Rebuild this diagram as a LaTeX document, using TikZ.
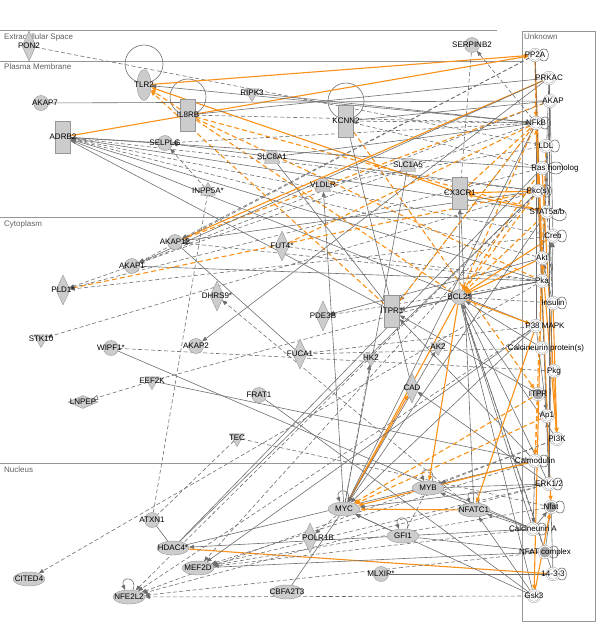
\documentclass[tikz,border=0pt]{standalone}
\usepackage{fontspec}
\setmainfont{Liberation Sans}
\usepackage{tikz}
\usetikzlibrary{shapes,arrows.meta,positioning,calc}
\definecolor{genefill}{RGB}{204,204,204}
\definecolor{geneline}{RGB}{150,150,150}
\definecolor{darkfill}{RGB}{170,170,170}
\definecolor{relgrey}{RGB}{110,110,110}
\definecolor{hitorange}{RGB}{250,145,25}
\definecolor{compgrey}{RGB}{150,150,150}
\definecolor{comptext}{RGB}{95,95,95}
\pgfdeclarelayer{bg}
\pgfsetlayers{bg,main}

\begin{document}
\begin{tikzpicture}[x=1pt, y=-1pt, >={Triangle[length=5pt,width=4pt]}, font=\fontsize{8}{9}\selectfont]
    \tikzstyle{gene} = [circle, draw=geneline, fill=genefill, minimum size=15pt, inner sep=0pt]
    \tikzstyle{oval} = [ellipse, draw=geneline, fill=genefill, minimum width=32pt, minimum height=14pt, inner sep=0pt]
    \tikzstyle{tallgene} = [ellipse, draw=geneline, fill=genefill, minimum width=14pt, minimum height=31pt, inner sep=0pt]
    \tikzstyle{receptor} = [rectangle, draw=geneline, fill=genefill, minimum width=15pt, minimum height=32pt, inner sep=0pt]
    \tikzstyle{enzyme} = [diamond, draw=geneline, fill=genefill, minimum width=14pt, minimum height=30pt, inner sep=0pt]
    \tikzstyle{peptidase} = [diamond, draw=geneline, fill=genefill, minimum width=30pt, minimum height=13pt, inner sep=0pt]
    \tikzstyle{kinase} = [regular polygon, regular polygon sides=3, shape border rotate=180, draw=geneline, fill=genefill, minimum size=17pt, inner sep=0pt]
    \tikzstyle{phosphatase} = [regular polygon, regular polygon sides=3, draw=geneline, fill=genefill, minimum size=17pt, inner sep=0pt]
    \tikzstyle{transporter} = [trapezium, trapezium stretches=true, trapezium left angle=72, trapezium right angle=72, draw=geneline, fill=genefill, minimum width=15pt, minimum height=13pt, inner sep=1pt]
    \tikzstyle{unk} = [circle, draw=geneline, double=white, double distance=1.1pt, fill=white, minimum size=12pt, inner sep=0pt]
    \tikzstyle{unkdark} = [unk, fill=darkfill]
    \tikzstyle{comp} = [text=comptext, anchor=west, inner sep=0pt]
    \tikzstyle{compline} = [draw=compgrey, line width=0.7pt]
    \tikzstyle{rel} = [draw=relgrey, line width=0.6pt]
    \tikzstyle{relx} = [rel, dash pattern=on 4pt off 2.5pt]
    \tikzstyle{hit} = [draw=hitorange, line width=1.1pt]
    \tikzstyle{hitx} = [hit, dash pattern=on 5pt off 3pt]

    \useasboundingbox (0,0) rectangle (600,632);

    \node[comp] (extralbl) at (4,37) {Extracellular Space};
    \node[comp] (pmlbl) at (4,67) {Plasma Membrane};
    \node[comp] (cytolbl) at (4,224) {Cytoplasm};
    \node[comp] (nuclbl) at (4,470) {Nucleus};
    \node[comp] (unklbl) at (524,37) {Unknown};

    \node[enzyme, label=center:PON2] (pon2) at (29,46) {};
    \node[tallgene, label=center:TLR2] (tlr2) at (144,85) {};
    \node[receptor, label=center:IL8RB] (il8rb) at (188,115) {};
    \node[kinase, label=center:RIPK3] (ripk3) at (252,93) {};
    \node[gene, label={[xshift=4pt]center:AKAP7}] (akap7) at (41,103) {};
    \node[receptor, label=center:ADRB2] (adrb2) at (63,137) {};
    \node[gene, label=center:SELPLG] (selplg) at (165,143) {};
    \node[transporter, label=center:SLC8A1] (slc8a1) at (272,157) {};
    \node[phosphatase, label=center:INPP5A*] (inpp5a) at (208,191) {};
    \node[receptor, label=center:KCNN2] (kcnn2) at (346,121) {};
    \node[gene, label=center:SERPINB2] (serpinb2) at (472,45) {};
    \node[transporter, label=center:SLC1A5] (slc1a5) at (408,165) {};
    \node[transporter, label=center:VLDLR] (vldlr) at (323,185) {};
    \node[receptor, label=center:CX3CR1] (cx3cr1) at (460,193) {};

    \node[gene, label=center:AKAP13] (akap13) at (175,242) {};
    \node[gene, label=center:AKAP1] (akap1) at (132,266) {};
    \node[enzyme, label=center:PLD1*] (pld1) at (63,290) {};
    \node[enzyme, label=center:FUT4*] (fut4) at (282,246) {};
    \node[enzyme, label=center:DHRS9*] (dhrs9) at (217,296) {};
    \node[kinase, label=center:STK10] (stk10) at (41,339) {};
    \node[gene, label=center:WIPF1*] (wipf1) at (111,348) {};
    \node[gene, label=center:AKAP2] (akap2) at (196,346) {};
    \node[kinase, label=center:EEF2K] (eef2k) at (152,381) {};
    \node[peptidase, label=center:LNPEP] (lnpep) at (83,402) {};
    \node[gene, label=center:FRAT1] (frat1) at (259,395) {};
    \node[enzyme, label=center:PDE3B] (pde3b) at (323,316) {};
    \node[receptor, label=center:ITPR1] (itpr1) at (392,311) {};
    \node[gene, label=center:BCL2*] (bcl2) at (459,297) {};
    \node[enzyme, label=center:FUCA1] (fuca1) at (300,354) {};
    \node[kinase, label=center:HK2] (hk2) at (371,358) {};
    \node[kinase, label=center:AK2] (ak2) at (438,347) {};
    \node[enzyme, label=center:CAD] (cad) at (412,388) {};
    \node[kinase, label=center:TEC] (tec) at (237,438) {};

    \node[gene, label=center:ATXN1] (atxn1) at (152,520) {};
    \node[oval, label=center:HDAC4*] (hdac4) at (173,548) {};
    \node[oval, label=center:MEF2D] (mef2d) at (198,568) {};
    \node[oval, label=center:CITED4] (cited4) at (29,579) {};
    \node[oval, label=center:NFE2L2] (nfe2l2) at (129,597) {};
    \node[oval, label=center:CBFA2T3] (cbfa2t3) at (287,592) {};
    \node[enzyme, label={[xshift=8pt]center:POLR1B}] (polr1b) at (310,538) {};
    \node[oval, label=center:MYC] (myc) at (344,509) {};
    \node[oval, label=center:MYB] (myb) at (428,488) {};
    \node[oval, label=center:NFATC1] (nfatc1) at (474,510) {};
    \node[oval, label=center:GFI1] (gfi1) at (403,536) {};
    \node[gene, label=center:MLXIP*] (mlxip) at (381,574) {};

    \node[unk, label=center:PP2A] (pp2a) at (535,55) {};
    \node[unk, label=center:PRKAC] (prkac) at (549,78) {};
    \node[unk, label={[xshift=3pt]center:AKAP}] (akap) at (550,101) {};
    \node[unk, label=center:NFkB] (nfkb) at (536,123) {};
    \node[unk, label=center:LDL] (ldl) at (546,146) {};
    \node[unk, label={[xshift=13pt]center:Ras homolog}] (ras) at (542,168) {};
    \node[unk, label=center:Pkc(s)] (pkc) at (538,191) {};
    \node[unk, label=center:STAT5a/b] (stat5) at (547,212) {};
    \node[unk, label=center:Creb] (creb) at (553,236) {};
    \node[unk, label=center:Akt] (akt) at (542,258) {};
    \node[unk, label=center:Pka] (pka) at (542,281) {};
    \node[unk, label=center:Insulin] (insulin) at (553,303) {};
    \node[unk, label={[xshift=9pt]center:P38 MAPK}] (p38) at (536,326) {};
    \node[unk, label={[xshift=4pt]center:Calcineurin protein(s)}] (calcin) at (542,348) {};
    \node[unk, label=center:Pkg] (pkg) at (554,371) {};
    \node[unkdark, label=center:ITPR] (itpr) at (538,394) {};
    \node[unk, label=center:Ap1] (ap1) at (547,416) {};
    \node[unk, label=center:PI3K] (pi3k) at (557,439) {};
    \node[unk, label=center:Calmodulin] (calm) at (535,461) {};
    \node[unk, label=center:ERK1/2] (erk) at (549,484) {};
    \node[unkdark, label=center:Nfat] (nfat) at (551,507) {};
    \node[unk, label=center:Calcineurin A] (calca) at (533,529) {};
    \node[unkdark, label=center:NFAT complex] (nfatcx) at (545,552) {};
    \node[unk, label=center:14-3-3] (f1433) at (553,574) {};
    \node[unk, label=center:Gsk3] (gsk3) at (534,596) {};

    \begin{pgfonlayer}{bg}
    \draw[compline] (0,30) -- (497,30);
    \draw[compline] (0,61) -- (522,61);
    \draw[compline] (0,217) -- (522,217);
    \draw[compline] (0,463) -- (522,463);
    \draw[compline] (522,31) rectangle (595,621);

    \draw[rel] ([yshift=21pt]tlr2.center) circle (19pt);
    \draw[rel] ([yshift=18pt]il8rb.center) circle (18pt);
    \draw[rel] ([yshift=20pt]kcnn2.center) circle (18pt);
    \foreach \n in {myc,myb,nfatc1,gfi1,nfe2l2}
        \draw[rel,->] (\n.60) .. controls +(70:15pt) and +(110:15pt) .. (\n.120);
    \foreach \n in {pp2a,nfkb,ldl,pkc,creb,insulin,calm,erk,nfat,calca,nfatcx,f1433}
        \draw[rel] (\n.40) .. controls +(40:15pt) and +(-40:15pt) .. (\n.-40);
    \draw[rel] (ras.30) .. controls +(30:24pt) and +(-30:24pt) .. (ras.-30);
    \draw[rel] (stat5.10) .. controls +(20:22pt) and +(-40:22pt) .. (stat5.-50);

    \draw[relx,->] (pon2) -- (ldl);
    \draw[hit,->] (tlr2) -- (pp2a);
    \draw[hit,->] (adrb2) -- (pp2a);
    \draw[hit,->] (cx3cr1) -- (tlr2);
    \draw[rel,->] (nfkb) -- (tlr2);
    \draw[hitx,->] (bcl2) -- (tlr2);
    \draw[hitx,->] (itpr1) -- (tlr2);
    \draw[rel] (ripk3) -- (nfkb);
    \draw[rel] (akap7) -- (akap);
    \draw[rel] (il8rb) -- (prkac);
    \draw[relx,->] (il8rb) -- (nfkb);
    \draw[hitx,->] (il8rb) -- (stat5);
    \draw[hitx] (il8rb) -- (pka);
    \draw[relx] (kcnn2) -- (nfkb);
    \draw[relx] (kcnn2) -- (ras);
    \draw[rel] (kcnn2) -- (akap);
    \draw[rel] (kcnn2) -- (cad);
    \draw[hitx,->] (kcnn2) -- (itpr);
    \draw[rel] (adrb2) -- (selplg);
    \draw[rel,->] (pka) -- (adrb2);
    \draw[rel,->] (p38) -- (adrb2);
    \draw[relx,->] (pkc) -- (adrb2);
    \draw[relx,->] (akt) -- (adrb2);
    \draw[rel,->] (stat5) -- (adrb2);
    \draw[relx,->] (creb) -- (adrb2);
    \draw[rel] (adrb2) -- (ras);
    \draw[rel] (adrb2) -- (itpr1);
    \draw[rel,->] (pkc) -- (selplg);
    \draw[relx,->] (nfkb) -- (selplg);
    \draw[relx,->] (inpp5a) -- (selplg);
    \draw[relx,-{Bar[width=6pt]}] (atxn1) -- (inpp5a);
    \draw[rel] (slc8a1) -- (itpr1);
    \draw[rel] (slc8a1) -- (nfkb);
    \draw[rel,->] (myc) -- (vldlr);
    \draw[relx] (vldlr) -- (ldl);
    \draw[rel] (slc1a5) -- (myc);
    \draw[relx,->] (nfkb) -- (serpinb2);
    \draw[relx] (serpinb2) -- (cx3cr1);
    \draw[rel,->] (bcl2) -- (cx3cr1);
    \draw[hit,->] (pkc) -- (cx3cr1);
    \draw[hit,->] (stat5) -- (cx3cr1);
    \draw[hitx] (cx3cr1) -- (nfkb);
    \draw[rel] (cx3cr1) -- (nfatc1);

    \draw[hit,->] (prkac) -- (akap13);
    \draw[hitx,->] (akap) -- (akap13);
    \draw[rel,->] (pkc) -- (akap13);
    \draw[relx,->] (pp2a) -- (akap13);
    \draw[rel,->] (prkac) -- (akap1);
    \draw[relx,->] (akap) -- (akap1);
    \draw[relx,->] (pka) -- (akap13);
    \draw[rel] (akap1) -- (pka);
    \draw[relx,->] (pp2a) -- (akap1);
    \draw[hitx,->] (pkc) -- (pld1);
    \draw[relx,->] (ras) -- (pld1);
    \draw[relx,->] (nfkb) -- (pld1);
    \draw[relx,->] (creb) -- (pld1);
    \draw[relx,->] (pkc) -- (stk10);
    \draw[relx] (wipf1) -- (pkg);
    \draw[rel] (wipf1) -- (calca);
    \draw[rel,->] (prkac) -- (akap2);
    \draw[relx,->] (nfatc1) -- (dhrs9);
    \draw[hitx] (fut4) -- (nfkb);
    \draw[relx] (fut4) -- (pka);
    \draw[rel] (akap13) -- (fuca1);
    \draw[relx] (fuca1) -- (p38);
    \draw[relx] (fuca1) -- (calcin);
    \draw[relx] (bcl2) -- (eef2k);
    \draw[relx,-{Triangle[open,length=6pt,width=5pt]}] (eef2k) -- (lnpep);
    \draw[rel] (eef2k) -- (calm);
    \draw[rel] (frat1) -- (gsk3);
    \draw[relx] (tec) -- (nfat);
    \draw[relx] (tec) -- (atxn1);
    \draw[rel,->] (akt) -- (pde3b);
    \draw[relx,->] (pka) -- (pde3b);
    \draw[rel,->] (itpr) -- (itpr1);
    \draw[rel,->] (calm) -- (itpr1);
    \draw[rel,->] (pka) -- (itpr1);
    \draw[relx,->] (nfkb) -- (itpr1);
    \draw[rel] (bcl2) -- (itpr1);
    \draw[hitx] (itpr1) -- (nfkb);
    \draw[rel,->] (erk) -- (cad);

    \draw[hit,->] (akt) -- (bcl2);
    \draw[hitx,->] (nfkb) -- (bcl2);
    \draw[hitx,->] (stat5) -- (bcl2);
    \draw[hitx,->] (ras) -- (bcl2);
    \draw[hitx,->] (pkc) -- (bcl2);
    \draw[hit,->] (bcl2) -- (p38);
    \draw[hit,->] (creb) -- (bcl2);
    \draw[rel,->] (erk) -- (bcl2);
    \draw[rel,->] (calcin) -- (bcl2);
    \draw[rel,->] (pka) -- (bcl2);
    \draw[relx,->] (insulin) -- (bcl2);
    \draw[rel] (bcl2) -- (calca);
    \draw[rel] (bcl2) -- (f1433);
    \draw[relx] (bcl2) -- (nfatcx);
    \draw[rel] (bcl2) -- (pi3k);
    \draw[rel] (bcl2) -- (gsk3);
    \draw[hit,->] (bcl2) -- (myc);
    \draw[hit,->] (bcl2) -- (myb);
    \draw[hit,->] (myc) -- (cad);
    \draw[relx,->] (myc) -- (hk2);
    \draw[rel,->] (myc) -- (ak2);

    \draw[rel] (atxn1) -- (hdac4);
    \draw[relx,->] (pka) -- (cited4);
    \draw[rel] (hdac4) -- (pkc);
    \draw[rel] (hdac4) -- (ras);
    \draw[rel] (hdac4) -- (calm);
    \draw[rel,->] (calca) -- (hdac4);
    \draw[hit] (hdac4) -- (f1433);
    \draw[rel] (mlxip) -- (f1433);
    \draw[relx,->] (erk) -- (mef2d);
    \draw[relx,->] (calm) -- (mef2d);
    \draw[rel,->] (p38) -- (mef2d);
    \draw[relx,->] (calca) -- (mef2d);
    \draw[relx,->] (nfat) -- (mef2d);
    \draw[relx,->] (pkc) -- (mef2d);
    \draw[rel] (mef2d) -- (nfatcx);
    \draw[relx,->] (erk) -- (nfe2l2);
    \draw[relx,->] (pi3k) -- (nfe2l2);
    \draw[relx,->] (pkc) -- (nfe2l2);
    \draw[relx,->] (gsk3) -- (nfe2l2);
    \draw[relx,->] (p38) -- (nfe2l2);
    \draw[relx,->] (nfatcx) -- (nfe2l2);
    \draw[relx,->] (myc) -- (polr1b);
    \draw[rel] (cbfa2t3) -- (myc);
    \draw[hit,->] (nfatc1) -- (myc);
    \draw[hit,->] (calm) -- (myc);
    \draw[hitx,->] (ap1) -- (myc);
    \draw[hitx,->] (itpr) -- (myc);
    \draw[rel,->] (gfi1) -- (myc);
    \draw[rel,->] (erk) -- (myc);
    \draw[rel,->] (stat5) -- (myc);
    \draw[rel,->] (nfkb) -- (myc);
    \draw[rel,->] (gsk3) -- (myc);
    \draw[rel,->] (p38) -- (myc);
    \draw[rel,->] (calca) -- (myb);
    \draw[relx,->] (pi3k) -- (myb);
    \draw[rel] (myb) -- (erk);
    \draw[relx] (myb) -- (gfi1);
    \draw[hit,->] (p38) -- (nfatc1);
    \draw[rel,->] (calca) -- (nfatc1);
    \draw[rel,->] (gsk3) -- (nfatc1);
    \draw[rel] (gfi1) -- (nfatcx);

    \draw[hit,->] (pp2a) -- (akt);
    \draw[hitx,->] (pp2a) -- (nfkb);
    \draw[rel] (pp2a) -- (pka);
    \draw[rel] (prkac) -- (pka);
    \draw[rel] (akap) -- (pka);
    \draw[rel] (akap) -- (creb);
    \draw[hit,->] (pkc) -- (nfkb);
    \draw[rel] (p38) -- (nfkb);
    \draw[hit,->] (ras) -- (pi3k);
    \draw[hit,->] (akt) -- (gsk3);
    \draw[rel,->] (pka) -- (creb);
    \draw[rel,->] (insulin) -- (akt);
    \draw[hit,->] (pi3k) -- (akt);
    \draw[rel,->] (calm) -- (calca);
    \draw[rel,->] (calca) -- (nfat);
    \draw[rel] (nfat) -- (nfatcx);
    \draw[rel,->] (erk) -- (ap1);
    \draw[rel,->] (p38) -- (ap1);
    \draw[rel] (f1433) -- (nfat);
    \draw[hit,->] (gsk3) -- (nfat);
    \draw[hit,->] (pkc) -- (nfat);
    \draw[hitx,->] (itpr) -- (calm);
    \draw[hitx,->] (ldl) -- (calm);
    \draw[rel] (ldl) -- (insulin);
    \draw[hit,->] (akt) -- (nfkb);
    \draw[hit,->] (insulin) -- (pi3k);
    \draw[rel] (pkc) -- (erk);
    \draw[rel] (prkac) -- (erk);
    \draw[relx] (stat5) -- (insulin);
    \draw[rel,->] (erk) -- (creb);
    \end{pgfonlayer}
\end{tikzpicture}
\end{document}
